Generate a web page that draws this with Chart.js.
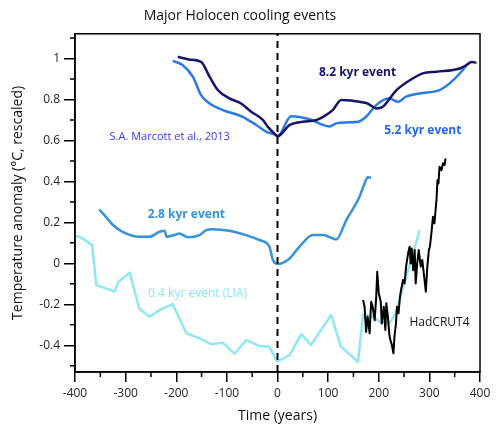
<!DOCTYPE html>
<html>
<head>
<meta charset="utf-8">
<script src="https://cdn.jsdelivr.net/npm/chart.js@4.4.1/dist/chart.umd.min.js"></script>
<style>
  body { margin: 0; background: #fff; }
  #wrap { width: 500px; height: 440px; }
</style>
</head>
<body>
<div id="wrap"><canvas id="holocene"></canvas></div>
<script>
// values (years relative to event, rescaled anomaly)
const ev82Years = [-197, -175, -151, -134, -118, -95, -72, -52, -29, -19, -3, 0, 24, 50, 76, 90, 109, 126, 145, 162, 178, 195, 208, 235, 267, 287, 314, 360, 373, 383, 393];
const ev82Temp = [1.008, 0.995, 0.983, 0.910, 0.846, 0.805, 0.780, 0.740, 0.700, 0.666, 0.626, 0.620, 0.675, 0.691, 0.699, 0.715, 0.748, 0.797, 0.795, 0.788, 0.780, 0.756, 0.764, 0.845, 0.902, 0.927, 0.935, 0.951, 0.967, 0.983, 0.979];

const ev52Years = [-207, -187, -167, -151, -134, -108, -69, -42, -22, -3, 0, 27, 63, 90, 103, 116, 140, 159, 175, 195, 221, 238, 254, 281, 320, 340, 363, 373];
const ev52Temp = [0.988, 0.967, 0.910, 0.821, 0.780, 0.748, 0.715, 0.675, 0.642, 0.626, 0.620, 0.718, 0.703, 0.675, 0.668, 0.683, 0.688, 0.691, 0.715, 0.772, 0.805, 0.788, 0.813, 0.829, 0.845, 0.878, 0.935, 0.967];

const ev28Years = [-352, -339, -325, -306, -273, -253, -233, -223, -219, -204, -194, -177, -154, -141, -128, -95, -62, -36, -16, -9, 0, 24, 43, 70, 90, 116, 136, 162, 172, 178, 185];
const ev28Temp = [0.263, 0.227, 0.187, 0.154, 0.130, 0.130, 0.154, 0.159, 0.130, 0.138, 0.146, 0.127, 0.138, 0.162, 0.167, 0.159, 0.138, 0.114, 0.081, 0.016, -0.003, 0.024, 0.080, 0.138, 0.138, 0.117, 0.211, 0.325, 0.390, 0.420, 0.418];

const liaYears = [-401, -385, -366, -358, -339, -322, -314, -292, -273, -253, -233, -207, -180, -154, -131, -108, -85, -62, -36, -16, -1, 24, 47, 66, 106, 125, 159, 169, 185, 202, 221, 233, 281];
const liaTemp = [0.138, 0.122, 0.089, -0.106, -0.122, -0.138, -0.090, -0.046, -0.220, -0.260, -0.228, -0.199, -0.341, -0.366, -0.394, -0.387, -0.442, -0.374, -0.403, -0.407, -0.480, -0.447, -0.345, -0.399, -0.252, -0.405, -0.480, -0.250, -0.255, -0.285, -0.293, -0.245, 0.162];

const hadYears = [169, 172, 175, 178, 182, 185, 188, 192, 195, 197, 200, 204, 206, 210, 213, 215, 218, 221, 223, 226, 229, 231, 234, 236, 239, 242, 244, 248, 251, 254, 258, 261, 263, 265, 268, 271, 273, 276, 279, 283, 286, 289, 293, 296, 299, 301, 304, 307, 310, 314, 316, 318, 320, 324, 327, 330, 332];
const hadTemp = [-0.179, -0.212, -0.334, -0.260, -0.341, -0.187, -0.212, -0.277, -0.163, -0.041, -0.146, -0.187, -0.293, -0.212, -0.325, -0.195, -0.260, -0.350, -0.374, -0.399, -0.439, -0.358, -0.293, -0.212, -0.244, -0.163, -0.130, -0.081, -0.098, -0.016, 0.049, 0.081, 0.000, 0.073, -0.033, 0.065, -0.098, 0.000, 0.065, -0.016, 0.016, -0.049, -0.138, -0.016, 0.065, 0.081, 0.146, 0.227, 0.195, 0.309, 0.406, 0.390, 0.471, 0.455, 0.488, 0.480, 0.512];

const xTicks = [-400, -300, -200, -100, 0, 100, 200, 300, 400];
const yTicks = [-0.4, -0.2, 0, 0.2, 0.4, 0.6, 0.8, 1];
const xMinor = [-350, -250, -150, -50, 50, 150, 250, 350];
const yMinor = [-0.5, -0.3, -0.1, 0.1, 0.3, 0.5, 0.7, 0.9, 1.1];

const Y_MIN = -0.53, Y_MAX = 1.12;
const FONT = "'Open Sans', 'Noto Sans', sans-serif";

function pts(xs, ys) {
    return xs.map((x, i) => ({x: x, y: ys[i]}));
}

function line(data, color, width, order, smooth) {
    return {
        data: data,
        showLine: true,
        borderColor: color,
        borderWidth: width,
        pointRadius: 0,
        fill: false,
        order: order,
        tension: smooth ? 0.3 : 0,
        cubicInterpolationMode: smooth ? 'monotone' : 'default',
        borderJoinStyle: 'round'
    };
}

// frame, minor ticks and text notes
const extras = {
    id: 'extras',
    afterDraw(chart) {
        const ctx = chart.ctx;
        const a = chart.chartArea;
        const xs = chart.scales.x, ys = chart.scales.y;
        ctx.save();
        ctx.strokeStyle = '#000';
        ctx.lineWidth = 1.5;
        ctx.strokeRect(a.left, a.top, a.right - a.left, a.bottom - a.top);
        ctx.beginPath();
        xMinor.forEach(v => {
            let p = xs.getPixelForValue(v);
            ctx.moveTo(p, a.bottom);
            ctx.lineTo(p, a.bottom + 5);
        });
        yMinor.forEach(v => {
            let p = ys.getPixelForValue(v);
            ctx.moveTo(a.left, p);
            ctx.lineTo(a.left - 5, p);
        });
        ctx.stroke();

        const notes = [
            ['8.2 kyr event', 158, 0.933, '#14146b', 'bold 12px '],
            ['5.2 kyr event', 287, 0.650, '#2466e6', 'bold 12px '],
            ['S.A. Marcott et al., 2013', -213, 0.616, '#3a3af0', '11px '],
            ['2.8 kyr event', -180, 0.240, '#3592db', 'bold 12px '],
            ['0.4 kyr event (LIA)', -158, -0.145, '#88e6f2', '12px '],
            ['HadCRUT4', 320, -0.29, '#111', '12px ']
        ];
        ctx.textAlign = 'center';
        ctx.textBaseline = 'middle';
        notes.forEach(n => {
            ctx.fillStyle = n[3];
            ctx.font = n[4] + FONT;
            ctx.fillText(n[0], xs.getPixelForValue(n[1]), ys.getPixelForValue(n[2]));
        });
        ctx.restore();
    }
};

window.onload = function(){
    let kaart = document.getElementById('holocene').getContext('2d');
    let zeroLine = line([{x: 0, y: Y_MIN}, {x: 0, y: Y_MAX}], '#000', 2, 0, false);
    zeroLine.borderDash = [7, 5];
    new Chart(kaart, {
        type: 'scatter',
        data: {
            datasets: [
                zeroLine,
                line(pts(hadYears, hadTemp), '#000', 2, 1, false),
                line(pts(ev82Years, ev82Temp), '#14146b', 2.5, 2, true),
                line(pts(ev52Years, ev52Temp), '#2a7be8', 2.5, 3, true),
                line(pts(ev28Years, ev28Temp), '#3592db', 2.5, 4, true),
                line(pts(liaYears, liaTemp), '#8ee8f4', 2.5, 5, false)
            ]
        },
        options: {
            responsive: true,
            maintainAspectRatio: false,
            animation: false,
            layout: {padding: {left: 0, right: 20, top: 0, bottom: 0}},
            plugins: {
                legend: {display: false},
                tooltip: {enabled: false},
                title: {
                    display: true,
                    text: 'Major Holocen cooling events',
                    color: '#111',
                    font: {family: FONT, size: 14, weight: 'normal'},
                    padding: {top: 8, bottom: 9}
                }
            },
            scales: {
                x: {
                    type: 'linear',
                    min: -400,
                    max: 400,
                    afterBuildTicks: s => { s.ticks = xTicks.map(v => ({value: v})); },
                    afterFit: s => { s.height = 68; },
                    grid: {drawOnChartArea: false, drawTicks: true, tickLength: 10, color: '#000', lineWidth: 1.5},
                    border: {display: true, color: '#000', width: 1.5},
                    ticks: {color: '#222', font: {family: FONT, size: 12}, padding: 4, maxRotation: 0},
                    title: {display: true, text: 'Time (years)', color: '#111', font: {family: FONT, size: 14}, padding: {top: 4, bottom: 16}}
                },
                y: {
                    min: Y_MIN,
                    max: Y_MAX,
                    afterBuildTicks: s => { s.ticks = yTicks.map(v => ({value: v})); },
                    afterFit: s => { s.width = 75; },
                    grid: {drawOnChartArea: false, drawTicks: true, tickLength: 11, color: '#000', lineWidth: 1.5},
                    border: {display: true, color: '#000', width: 1.5},
                    ticks: {color: '#222', font: {family: FONT, size: 12}, padding: 4, callback: v => String(v)},
                    title: {display: true, text: 'Temperature anomaly (°C, rescaled)', color: '#111', font: {family: FONT, size: 14}, padding: {top: 10, bottom: 4}}
                }
            }
        },
        plugins: [extras]
    });
};
</script>
</body>
</html>
